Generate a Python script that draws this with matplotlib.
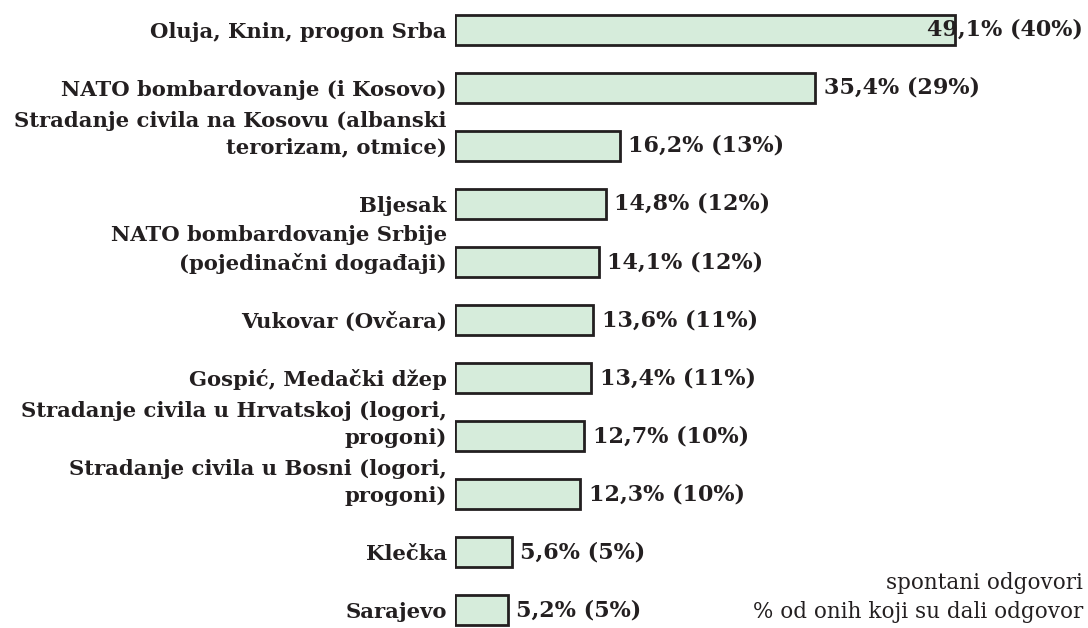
import matplotlib
matplotlib.use("Agg")
from matplotlib import pyplot as plt

categories = [
    "Oluja, Knin, progon Srba",
    "NATO bombardovanje (i Kosovo)",
    "Stradanje civila na Kosovu (albanski\nterorizam, otmice)",
    "Bljesak",
    "NATO bombardovanje Srbije\n(pojedinačni događaji)",
    "Vukovar (Ovčara)",
    "Gospić, Medački džep",
    "Stradanje civila u Hrvatskoj (logori,\nprogoni)",
    "Stradanje civila u Bosni (logori,\nprogoni)",
    "Klečka",
    "Sarajevo",
]
spontaneous = [49.1, 35.4, 16.2, 14.8, 14.1, 13.6, 13.4, 12.7, 12.3, 5.6, 5.2]
of_all = [40, 29, 13, 12, 12, 11, 11, 10, 10, 5, 5]
footer = ["spontani odgovori", "% od onih koji su dali odgovor"]

BAR = "#d6ecdb"
INK = "#231f20"
plt.rcParams["font.family"] = ["DejaVu Serif"]

fig = plt.figure(figsize=(10.88, 6.28), dpi=100)
ax = fig.add_axes([455 / 1088, 0, 1 - 455 / 1088, 1])

rows = list(range(len(categories)))
ax.barh(rows, spontaneous, height=0.53, color=BAR, edgecolor=INK, linewidth=2)

xmax = (1088 - 455) / 10.18
ax.set_xlim(0, xmax)
ax.set_ylim(10.31, -0.517)
ax.axis("off")

for i, (cat, v, p) in enumerate(zip(categories, spontaneous, of_all)):
    ax.annotate(cat, xy=(0, i), xytext=(-6, -8.3), textcoords="offset points",
                ha="right", va="bottom", fontsize=15.2, fontweight="bold",
                color=INK, linespacing=1.42, annotation_clip=False)
    txt = "{0}% ({1}%)".format(str(v).replace(".", ","), p)
    if v + 17 > xmax:
        # no room to the right, pull it back inside the figure
        ax.annotate(txt, xy=(xmax, i), xytext=(-4, 0), textcoords="offset points",
                    ha="right", va="center", fontsize=16, fontweight="bold", color=INK)
    else:
        ax.annotate(txt, xy=(v, i), xytext=(6, 0), textcoords="offset points",
                    ha="left", va="center", fontsize=16, fontweight="bold", color=INK)

fig.text(1083 / 1088, 1 - 583 / 628, footer[0], ha="right", va="center",
         fontsize=15.5, color=INK)
fig.text(1083 / 1088, 1 - 612 / 628, footer[1], ha="right", va="center",
         fontsize=15.5, color=INK)

fig.savefig("out.png", dpi=100)
